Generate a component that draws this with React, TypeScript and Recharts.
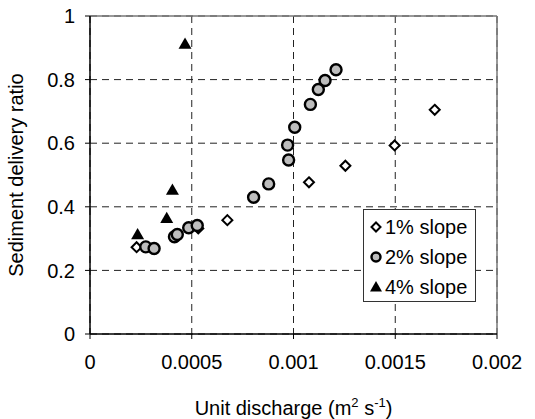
import {
  CartesianGrid,
  Label,
  Legend,
  ReferenceLine,
  Scatter,
  ScatterChart,
  XAxis,
  YAxis,
} from "recharts";

const FONT = "Arial, 'Liberation Sans', sans-serif";

// unit discharge (m2 s-1) and sediment delivery ratio, per slope
const slope1Q = [0.000229, 0.000532, 0.000675, 0.001076, 0.001255, 0.001497, 0.001694];
const slope1Sdr = [0.273, 0.332, 0.358, 0.477, 0.529, 0.593, 0.705];

const slope2Q = [
  0.000274, 0.000315, 0.000415, 0.000429, 0.000485, 0.000527, 0.000804, 0.000878,
  0.000971, 0.000976, 0.001006, 0.001083, 0.001122, 0.001155, 0.001209,
];
const slope2Sdr = [
  0.274, 0.269, 0.306, 0.313, 0.334, 0.341, 0.43, 0.472, 0.594, 0.547, 0.65, 0.722,
  0.769, 0.797, 0.831,
];

const slope4Q = [0.000234, 0.000377, 0.000405, 0.000467];
const slope4Sdr = [0.313, 0.364, 0.453, 0.912];

const xTicks = [0, 0.0005, 0.001, 0.0015, 0.002];
const yTicks = [0, 0.2, 0.4, 0.6, 0.8, 1];

const seriesNames = ["1% slope", "2% slope", "4% slope"];

const toPoints = (q: number[], sdr: number[]) => q.map((x, i) => ({ x, y: sdr[i] }));

const Diamond = ({ cx, cy, r = 5 }: any) => (
  <path
    d={`M${cx},${cy - r} L${cx + r},${cy} L${cx},${cy + r} L${cx - r},${cy} Z`}
    fill="#fff"
    stroke="#000"
    strokeWidth={2}
  />
);

const Dot = ({ cx, cy, r = 5.5 }: any) => (
  <circle cx={cx} cy={cy} r={r} fill="#bdbdbd" stroke="#000" strokeWidth={2.4} />
);

const Triangle = ({ cx, cy, r = 6.5 }: any) => (
  <path
    d={`M${cx},${cy - r} L${cx + r},${cy + r * 0.75} L${cx - r},${cy + r * 0.75} Z`}
    fill="#000"
  />
);

const icons = [Diamond, Dot, Triangle];

function LegendBox() {
  return (
    <div
      style={{
        background: "#fff",
        border: "1px solid #333",
        width: 113,
        height: 93,
        boxSizing: "border-box",
        fontFamily: FONT,
        fontSize: 20,
        color: "#000",
        paddingTop: 2,
      }}
    >
      {seriesNames.map((name, i) => {
        const Icon = icons[i];
        return (
          <div key={name} style={{ display: "flex", alignItems: "center", height: 30 }}>
            <svg width={16} height={20} style={{ marginLeft: 4, marginRight: 1 }}>
              <Icon cx={8} cy={10} r={i === 2 ? 6 : 4.5} />
            </svg>
            <span>{name}</span>
          </div>
        );
      })}
    </div>
  );
}

function XTitle(props: any) {
  const { x, y, width } = props.viewBox;
  return (
    <text x={x + width / 2} y={y + 81} textAnchor="middle" fontFamily={FONT} fontSize={20} fill="#000">
      Unit discharge (m
      <tspan dy={-8} fontSize={13}>2</tspan>
      <tspan dy={8}> s</tspan>
      <tspan dy={-8} fontSize={13}>-1</tspan>
      <tspan dy={8}>)</tspan>
    </text>
  );
}

export default function App() {
  const tickStyle = { fontFamily: FONT, fontSize: 20, fill: "#000" };
  return (
    <div style={{ position: "absolute", left: 0, top: 0, background: "#fff" }}>
      <ScatterChart width={535} height={419} margin={{ top: 16, right: 38, bottom: 0, left: 0 }}>
        <CartesianGrid stroke="#222" strokeDasharray="7 5" />
        <XAxis
          type="number"
          dataKey="x"
          domain={[0, 0.002]}
          ticks={xTicks}
          tickFormatter={(v) => String(v)}
          height={85}
          tickSize={5}
          tickMargin={16}
          tick={tickStyle}
          axisLine={{ stroke: "#000", strokeWidth: 1.5 }}
          tickLine={{ stroke: "#000" }}
        >
          <Label content={XTitle} />
        </XAxis>
        <YAxis
          type="number"
          dataKey="y"
          domain={[0, 1]}
          ticks={yTicks}
          tickFormatter={(v) => String(v)}
          width={90}
          tickSize={5}
          tickMargin={10}
          tick={tickStyle}
          axisLine={{ stroke: "#000", strokeWidth: 1.5 }}
          tickLine={{ stroke: "#000" }}
        >
          <Label
            value="Sediment delivery ratio"
            angle={-90}
            position="insideLeft"
            offset={16}
            style={{ textAnchor: "middle", fontFamily: FONT, fontSize: 20, fill: "#000" }}
          />
        </YAxis>
        <ReferenceLine y={1} stroke="#777" strokeWidth={1.5} />
        <ReferenceLine x={0.002} stroke="#777" strokeWidth={1.5} />
        <Legend
          layout="vertical"
          align="center"
          verticalAlign="middle"
          content={() => <LegendBox />}
          wrapperStyle={{ left: 363, top: 209, width: 113, height: 93 }}
        />
        <Scatter
          name={seriesNames[0]}
          data={toPoints(slope1Q, slope1Sdr)}
          shape={(p: any) => <Diamond cx={p.cx} cy={p.cy} />}
          isAnimationActive={false}
        />
        <Scatter
          name={seriesNames[1]}
          data={toPoints(slope2Q, slope2Sdr)}
          shape={(p: any) => <Dot cx={p.cx} cy={p.cy} />}
          isAnimationActive={false}
        />
        <Scatter
          name={seriesNames[2]}
          data={toPoints(slope4Q, slope4Sdr)}
          shape={(p: any) => <Triangle cx={p.cx} cy={p.cy} />}
          isAnimationActive={false}
        />
      </ScatterChart>
    </div>
  );
}
